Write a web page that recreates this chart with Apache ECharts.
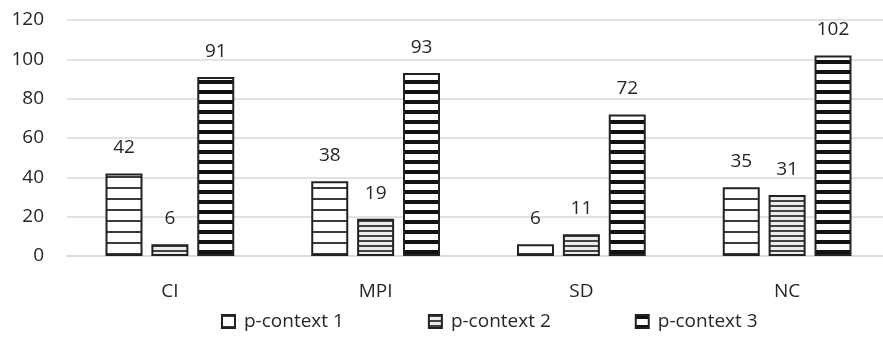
<!DOCTYPE html>
<html><head><meta charset="utf-8">
<script src="https://cdn.jsdelivr.net/npm/echarts@6/dist/echarts.min.js"></script>
<style>html,body{margin:0;padding:0;background:#fff;overflow:hidden}#c{width:891px;height:348px}</style>
</head><body><div id="c"></div>
<script>
const categories = ['CI', 'MPI', 'SD', 'NC'];
const seriesNames = ['p-context 1', 'p-context 2', 'p-context 3'];
const pc1 = [42, 38, 6, 35];
const pc2 = [6, 19, 11, 31];
const pc3 = [91, 93, 72, 102];
const yTicks = { min: 0, max: 120, interval: 20 };

function stripes(period, lineH, lineColor, bg) {
  const c = document.createElement('canvas');
  c.width = 8; c.height = period;
  const g = c.getContext('2d');
  g.fillStyle = bg; g.fillRect(0, 0, 8, period);
  g.fillStyle = lineColor; g.fillRect(0, 0, 8, lineH);
  return { image: c, repeat: 'repeat' };
}
const pat1 = stripes(11, 2, '#3a3a3a', '#ffffff');
const pat2 = stripes(5, 2, '#444444', '#ececec');
const pat3 = stripes(10, 4, '#111111', '#ffffff');
const pats = [pat1, pat2, pat3];
const datas = [pc1, pc2, pc3];
const font = '"Open Sans", "Noto Sans", sans-serif';

const chart = echarts.init(document.getElementById('c'));
chart.setOption({
  animation: false,
  textStyle: { fontFamily: font },
  grid: { left: 67, top: 20, width: 823, height: 236, containLabel: false },
  legend: {
    bottom: 12, left: 216, itemGap: 84, itemWidth: 13, itemHeight: 13, icon: 'rect',
    textStyle: { fontSize: 19, color: '#262626', fontFamily: font, padding: [0, 0, 0, 4] },
    data: seriesNames
  },
  xAxis: {
    type: 'category', data: categories,
    axisLine: { lineStyle: { color: '#d9d9d9', width: 2 } },
    axisTick: { show: false },
    axisLabel: { fontSize: 19, color: '#262626', margin: 26, fontFamily: font }
  },
  yAxis: {
    type: 'value', min: yTicks.min, max: yTicks.max, interval: yTicks.interval,
    axisLine: { show: false }, axisTick: { show: false },
    splitLine: { lineStyle: { color: '#d9d9d9', width: 1.5 } },
    axisLabel: { fontSize: 19, color: '#262626', margin: 23, fontFamily: font }
  },
  series: datas.map((d, i) => ({
    name: seriesNames[i], type: 'bar', data: d,
    barWidth: 37, barGap: '24%',
    itemStyle: { color: pats[i], borderColor: '#222', borderWidth: 2 },
    label: { show: true, position: 'top', distance: 16, fontSize: 19, color: '#262626', fontFamily: font }
  }))
});
</script></body></html>
